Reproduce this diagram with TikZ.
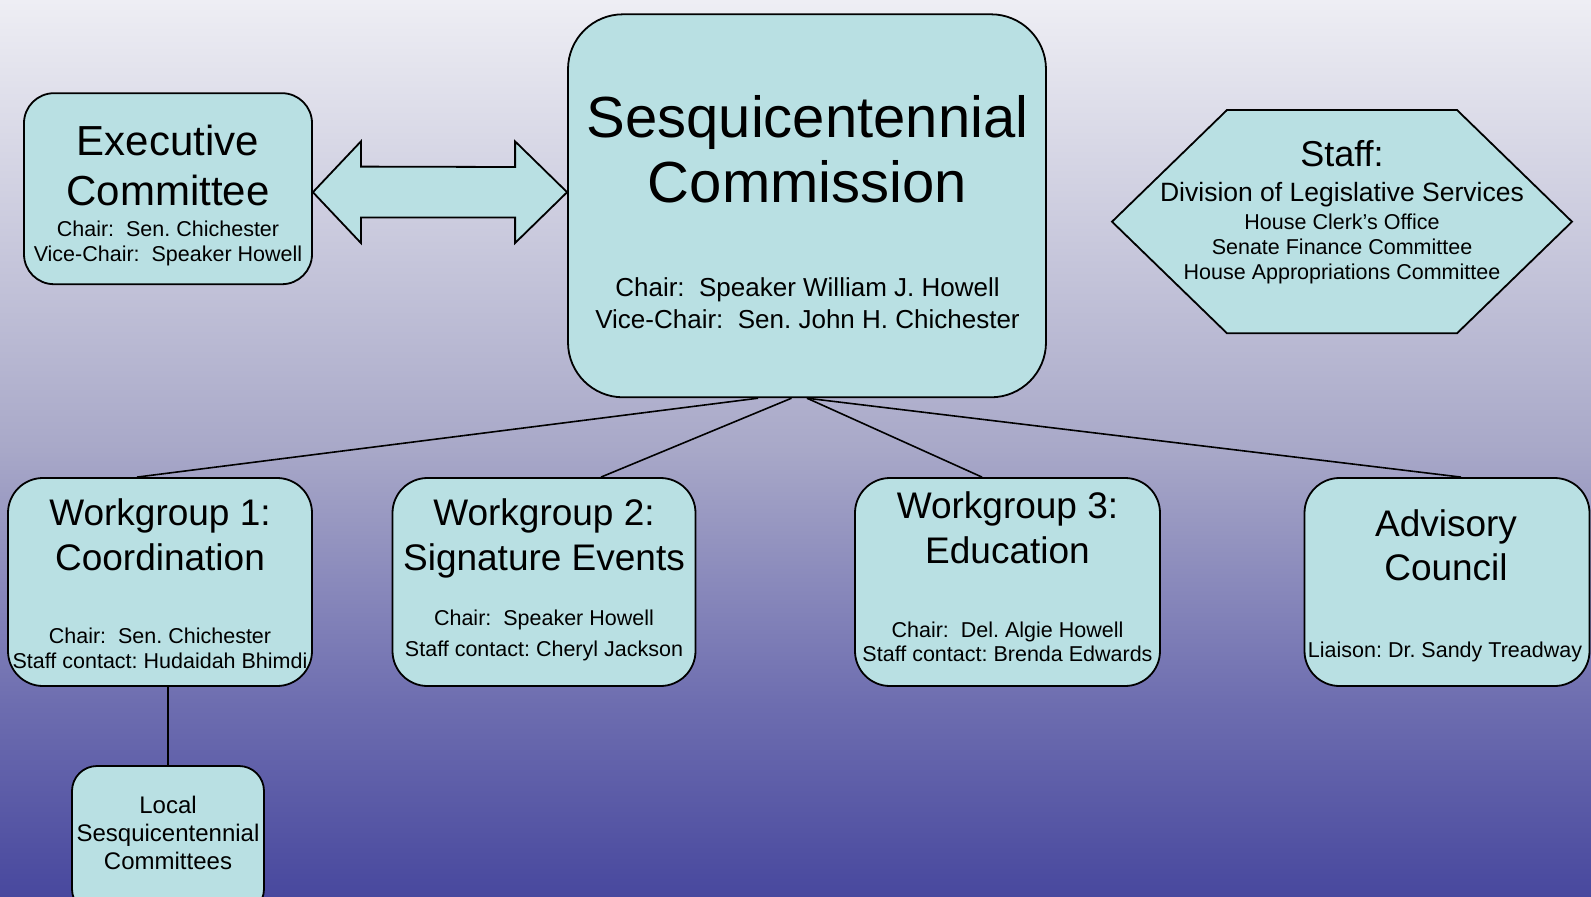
\documentclass[tikz,border=0pt]{standalone}
\usepackage{fontspec}
\setmainfont{Liberation Sans}
\usetikzlibrary{calc}
\definecolor{boxfill}{RGB}{185,224,227}
\definecolor{bgtop}{RGB}{238,238,244}
\definecolor{bgmid}{RGB}{168,168,200}
\definecolor{bglow}{RGB}{110,110,176}
\definecolor{bgbot}{RGB}{72,72,158}
\frenchspacing
\tikzset{
  box/.style={draw=black,line width=1.8pt,fill=boxfill,inner sep=0pt},
  txt/.style={inner sep=0pt,align=center,anchor=base},
  headtxt/.style={txt,font=\fontsize{37}{45}\selectfont},
  subtxt/.style={txt,font=\fontsize{21.5}{25.5}\selectfont},
  link/.style={draw=black,line width=1.6pt}
}
\begin{document}
\begin{tikzpicture}[x=1pt,y=-1pt]
\useasboundingbox (0,0) rectangle (1591,897);
\clip (0,0) rectangle (1591,897);
\shade[top color=bgtop,bottom color=bgmid] (0,0) rectangle (1591,451);
\shade[top color=bgmid,bottom color=bglow] (0,450) rectangle (1591,701);
\shade[top color=bglow,bottom color=bgbot] (0,700) rectangle (1591,897);

\node[box,rounded corners=30pt,minimum width=288pt,minimum height=191pt] (exec) at (168,188.7) {};
\node[box,rounded corners=55pt,minimum width=478pt,minimum height=383pt] (main) at (807,205.8) {};
\node[box,rounded corners=35pt,minimum width=304pt,minimum height=208pt] (wg1) at (160,582) {};
\node[box,rounded corners=35pt,minimum width=303pt,minimum height=208pt] (wg2) at (544,582) {};
\node[box,rounded corners=35pt,minimum width=305pt,minimum height=208pt] (wg3) at (1007.5,582) {};
\node[box,rounded corners=35pt,minimum width=285pt,minimum height=208pt] (adv) at (1447,582) {};
\node[box,rounded corners=25pt,minimum width=192pt,minimum height=148pt] (local) at (168,840) {};
\draw[box] (1112,221.7) -- (1227,110) -- (1457,110) -- (1572,221.7) -- (1457,333.3) -- (1227,333.3) -- cycle;

\coordinate (al) at ($(exec.east)+(0,3.5)$);
\coordinate (ar) at (main.west |- al);
\draw[box] (al) -- ++(48,-50.8) -- ++(0,25.2) -- ($(ar)+(-52,-25.2)$) -- ++(0,-25.6) -- (ar)
  -- ++(-52,50.8) -- ++(0,-25.6) -- ($(al)+(48,25.2)$) -- ++(0,25.6) -- cycle;

\draw[link] ($(main.south)+(-49,0)$) -- ($(wg1.north)+(-23,0)$);
\draw[link] ($(main.south)+(-15.5,0)$) -- ($(wg2.north)+(57,0)$);
\draw[link] (main.south) -- ($(wg3.north)+(-25.5,0)$);
\draw[link] (main.south) -- ($(adv.north)+(14,0)$);
\draw[link] (local.north |- wg1.south) -- (local.north);

\node[txt,font=\fontsize{42}{50}\selectfont] (exect) at (168,205) {Executive\\Committee};
\node[txt,font=\fontsize{21.5}{25.7}\selectfont] (execs) at (168,261.7) {Chair:\ \ Sen. Chichester\\Vice-Chair:\ \ Speaker Howell};
\node[txt,font=\fontsize{58}{65}\selectfont] (maint) at (807.5,202.5) {Sesquicentennial\\Commission};
\node[txt,font=\fontsize{26}{31.6}\selectfont] (mains) at (807.5,328.3) {Chair:\ \ Speaker William J. Howell\\Vice-Chair:\ \ Sen. John H. Chichester};
\node[txt,font=\fontsize{36}{36}\selectfont] (stafft) at (1342,166.7) {Staff:};
\node[txt,font=\fontsize{26.5}{30}\selectfont] (staffd) at (1342,201.7) {Division of Legislative Services};
\node[txt,font=\fontsize{21.5}{25}\selectfont] (staffs) at (1342,279.3) {House Clerk's Office\\Senate Finance Committee\\House Appropriations Committee};
\node[headtxt] (wg1t) at (160,570) {Workgroup 1:\\Coordination};
\node[subtxt] (wg1s) at (160,668.8) {Chair:\ \ Sen. Chichester\\Staff contact: Hudaidah Bhimdi};
\node[headtxt] (wg2t) at (544,570) {Workgroup 2:\\Signature Events};
\node[subtxt,font=\fontsize{21.5}{31.7}\selectfont] (wg2s) at (544,656.7) {Chair:\ \ Speaker Howell\\Staff contact: Cheryl Jackson};
\node[headtxt] (wg3t) at (1007.5,563.3) {Workgroup 3:\\Education};
\node[subtxt,font=\fontsize{21.5}{24.4}\selectfont] (wg3s) at (1007.5,661.7) {Chair:\ \ Del. Algie Howell\\Staff contact: Brenda Edwards};
\node[headtxt,font=\fontsize{37}{44}\selectfont] (advt) at (1446,580.7) {Advisory\\Council};
\node[subtxt] (advs) at (1445,657.3) {Liaison: Dr. Sandy Treadway};
\node[txt,font=\fontsize{24}{28.3}\selectfont] (localt) at (168,869.9) {Local\\Sesquicentennial\\Committees};
\end{tikzpicture}
\end{document}
